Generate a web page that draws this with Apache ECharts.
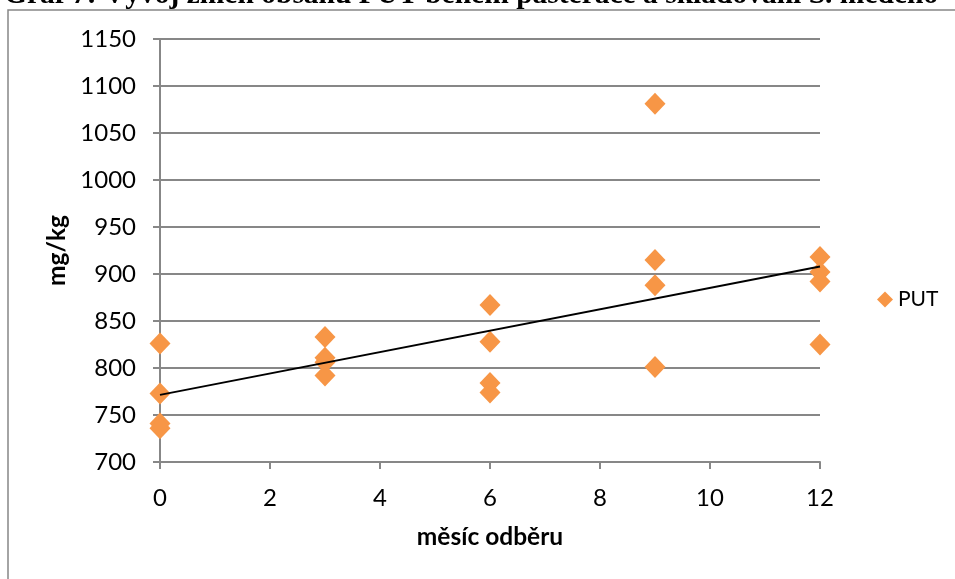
<!DOCTYPE html>
<html>
<head>
<meta charset="utf-8">
<script src="https://cdn.jsdelivr.net/npm/echarts@6/dist/echarts.min.js"></script>
<style>
  html, body { margin: 0; padding: 0; background: #fff; }
  #chart { width: 955px; height: 579px; }
</style>
</head>
<body>
<div id="chart"></div>
<script>
// Sampling month for each measurement and the measured PUT content (mg/kg)
const months = [0, 0, 0, 0, 3, 3, 3, 3, 6, 6, 6, 6, 9, 9, 9, 9, 12, 12, 12, 12];
const putValues = [826, 773, 741, 736, 833, 811, 806, 792, 867, 828, 784, 774,
                   1081, 915, 888, 801, 918, 902, 892, 825];

const seriesName = 'PUT';
const titleText = 'Graf 7: Vývoj změn obsahu PUT během pasterace a skladování S. medého';
const xAxisTitle = 'měsíc odběru';
const yAxisTitle = 'mg/kg';
const xTicks = { min: 0, max: 12, step: 2 };
const yTicks = { min: 700, max: 1150, step: 50 };

// Least-squares linear trend through all measurements
function linearFit(xs, ys) {
  const n = xs.length;
  const mx = xs.reduce((a, b) => a + b, 0) / n;
  const my = ys.reduce((a, b) => a + b, 0) / n;
  let sxy = 0, sxx = 0;
  for (let i = 0; i < n; i++) {
    sxy += (xs[i] - mx) * (ys[i] - my);
    sxx += (xs[i] - mx) * (xs[i] - mx);
  }
  const slope = sxy / sxx;
  return { slope, intercept: my - slope * mx };
}
const fit = linearFit(months, putValues);
const trendPoints = [xTicks.min, xTicks.max].map(x => [x, fit.intercept + fit.slope * x]);

const points = months.map((m, i) => [m, putValues[i]]);

const gray = '#878787';
const orange = '#F79646';
const labelFont = 'Lato';

const chart = echarts.init(document.getElementById('chart'), null, { renderer: 'canvas' });
chart.setOption({
  animation: false,
  backgroundColor: '#ffffff',
  graphic: [
    {
      type: 'rect',
      shape: { x: 8, y: 10, width: 1000, height: 700 },
      style: { fill: 'none', stroke: gray, lineWidth: 1.5 },
      z: -1
    },
    {
      type: 'text',
      left: 4,
      top: -20,
      style: {
        text: titleText,
        font: 'bold 29.5px "Liberation Serif"',
        fill: '#000'
      }
    }
  ],
  grid: { left: 160, right: 135, top: 39, bottom: 117, containLabel: false },
  legend: {
    data: [seriesName],
    left: 872,
    top: 284,
    orient: 'vertical',
    itemWidth: 16,
    itemHeight: 16,
    itemGap: 6,
    textStyle: { fontFamily: labelFont, fontSize: 21, color: '#000' }
  },
  xAxis: {
    type: 'value',
    min: xTicks.min,
    max: xTicks.max,
    interval: xTicks.step,
    name: xAxisTitle,
    nameLocation: 'middle',
    nameGap: 63,
    nameTextStyle: { fontFamily: labelFont, fontWeight: 'bold', fontSize: 24.5, color: '#000' },
    axisLine: { show: true, lineStyle: { color: gray, width: 2 } },
    axisTick: { show: true, inside: false, length: 7, lineStyle: { color: gray, width: 2 } },
    axisLabel: { fontFamily: labelFont, fontSize: 24, color: '#000', margin: 24 },
    splitLine: { show: false }
  },
  yAxis: {
    type: 'value',
    min: yTicks.min,
    max: yTicks.max,
    interval: yTicks.step,
    name: yAxisTitle,
    nameLocation: 'middle',
    nameGap: 88,
    nameTextStyle: { fontFamily: labelFont, fontWeight: 'bold', fontSize: 24.5, color: '#000' },
    axisLine: { show: true, lineStyle: { color: gray, width: 2 } },
    axisTick: { show: true, inside: false, length: 7, lineStyle: { color: gray, width: 2 } },
    axisLabel: {
      fontFamily: labelFont, fontSize: 24, color: '#000', margin: 24,
      formatter: v => String(v)
    },
    splitLine: { show: true, lineStyle: { color: gray, width: 2 } }
  },
  series: [
    {
      name: seriesName,
      type: 'scatter',
      symbol: 'diamond',
      symbolSize: [21, 22],
      itemStyle: { color: orange, opacity: 1 },
      data: points,
      z: 3
    },
    {
      name: 'trend',
      type: 'line',
      data: trendPoints,
      showSymbol: false,
      symbol: 'none',
      silent: true,
      lineStyle: { color: '#000', width: 2 },
      z: 4
    }
  ]
});
</script>
</body>
</html>
